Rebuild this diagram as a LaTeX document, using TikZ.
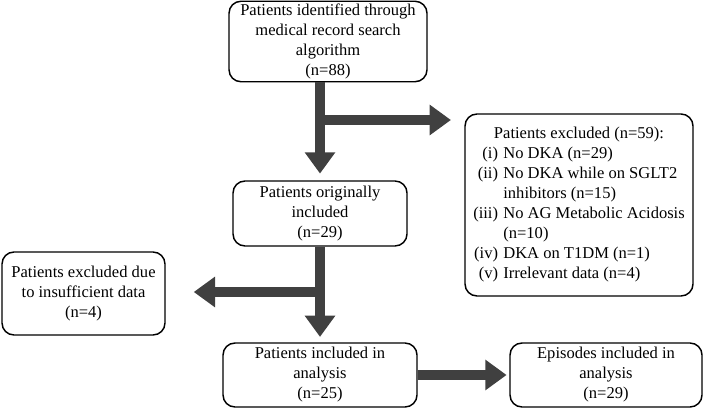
\documentclass[tikz,border=0pt]{standalone}
\usepackage{fontspec}
\setmainfont{Liberation Serif}
\usetikzlibrary{arrows.meta}

\tikzset{every picture/.style={line width=0.75pt}}
\tikzset{
  flowbox/.style={draw, line width=1.1pt, rounded corners=9pt, align=center, inner sep=2pt,
    font=\fontsize{12.4}{15}\selectfont},
  flowarrow/.style={draw={rgb, 255:red, 64; green, 64; blue, 64}, line width=6.9pt,
    -{Triangle[length=16pt,width=22pt]}}
}

\begin{document}
\begin{tikzpicture}[x=0.75pt,y=0.75pt,yscale=-1,xscale=1]
	\useasboundingbox (0,0) rectangle (705,409);

	%Shape: Rounded Rect [found]
	\node[flowbox, minimum width=148.5pt, minimum height=59.25pt] (found) at (328,41.5)
	  {Patients identified through\\ medical record search\\ algorithm\\ (n=88)};
	%Shape: Rounded Rect [orig]
	\node[flowbox, minimum width=130.5pt, minimum height=48.75pt] (orig) at (320,213.5)
	  {Patients originally\\ included\\ (n=29)};
	%Shape: Rounded Rect [excl]
	\node[flowbox, minimum width=171pt, minimum height=136.5pt] (excl) at (579,205)
	  {\renewcommand{\arraystretch}{1.0}%
	   \begin{tabular}{@{}r@{\hspace{4pt}}l@{}}
	   \multicolumn{2}{c}{Patients excluded (n=59):}\\
	   (i) & No DKA (n=29)\\
	   (ii) & No DKA while on SGLT2\\
	        & inhibitors (n=15)\\
	   (iii) & No AG Metabolic Acidosis\\
	         & (n=10)\\
	   (iv) & DKA on T1DM (n=1)\\
	   (v) & Irrelevant data (n=4)
	   \end{tabular}};
	%Shape: Rounded Rect [insuf]
	\node[flowbox, minimum width=122.25pt, minimum height=62.25pt] (insuf) at (83.5,293.5)
	  {Patients excluded due\\ to insufficient data\\ (n=4)};
	%Shape: Rounded Rect [incl]
	\node[flowbox, minimum width=145.5pt, minimum height=48pt] (incl) at (320,375)
	  {Patients included in\\ analysis\\ (n=25)};
	%Shape: Rounded Rect [episodes]
	\node[flowbox, minimum width=144pt, minimum height=48pt] (episodes) at (606,375)
	  {Episodes included in\\ analysis\\ (n=29)};

	%Straight Lines [split points]
	\coordinate (split1) at (320,120);
	\coordinate (split2) at (320,292);

	%Straight Lines [arrows]
	\draw[flowarrow, shorten >=5pt] (found.south -| orig.north) -- (orig.north);
	\draw[flowarrow, shorten >=10pt] (split1) -- (excl.west |- split1);
	\draw[flowarrow, shorten >=4pt] (orig.south) -- (incl.north);
	\draw[flowarrow, shorten >=21pt] (split2) -- (insuf.east |- split2);
	\draw[flowarrow, shorten >=2pt] (incl.east) -- (episodes.west);

\end{tikzpicture}
\end{document}
